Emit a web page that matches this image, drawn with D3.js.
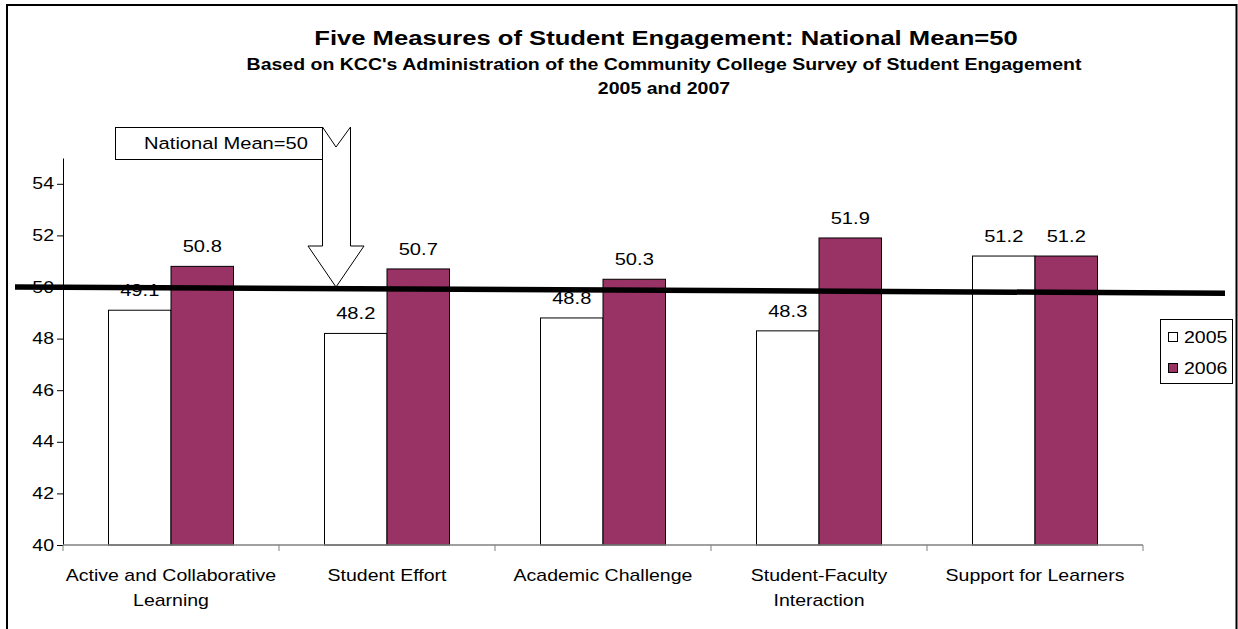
<!DOCTYPE html>
<html>
<head>
<meta charset="utf-8">
<script src="https://cdn.jsdelivr.net/npm/d3@7"></script>
<style>
  html, body { margin: 0; padding: 0; background: #fff; }
  svg { display: block; font-family: "Liberation Sans", Arial, sans-serif; }
</style>
</head>
<body>
<svg id="chart" width="1238" height="629"></svg>
<script>
// ---- data ----
const categories = [
  "Active and Collaborative Learning",
  "Student Effort",
  "Academic Challenge",
  "Student-Faculty Interaction",
  "Support for Learners"
];
const categoryLines = [
  ["Active and Collaborative", "Learning"],
  ["Student Effort"],
  ["Academic Challenge"],
  ["Student-Faculty", "Interaction"],
  ["Support for Learners"]
];
const seriesNames = ["2005", "2006"];
const values2005 = [49.1, 48.2, 48.8, 48.3, 51.2];
const values2006 = [50.8, 50.7, 50.3, 51.9, 51.2];
const yTicks = [40, 42, 44, 46, 48, 50, 52, 54];
const meanLineValues = [50.0, 49.76]; // hand-drawn national mean line (left end, right end)
const titleText = "Five Measures of Student Engagement: National Mean=50";
const subtitleText = "Based on KCC's Administration of the Community College Survey of Student Engagement";
const subtitle2Text = "2005 and 2007";
const calloutText = "National Mean=50";

const seriesValues = [values2005, values2006];
const colors = ["#ffffff", "#993366"];
const STRETCH = 1.22; // reference text is horizontally widened

// ---- layout ----
const svg = d3.select("#chart");
const plot = { left: 63, right: 1143, top: 158, bottom: 545 };

// outer frame
svg.append("rect")
  .attr("x", 7).attr("y", 5).attr("width", 1229.5).attr("height", 700)
  .attr("fill", "none").attr("stroke", "#000").attr("stroke-width", 2);

// titles
svg.append("text").attr("x", 666).attr("y", 45).attr("text-anchor", "middle")
  .attr("font-weight", "bold").attr("font-size", 21).text(titleText);
svg.append("text").attr("x", 664).attr("y", 70).attr("text-anchor", "middle")
  .attr("font-weight", "bold").attr("font-size", 16).text(subtitleText);
svg.append("text").attr("x", 664).attr("y", 94).attr("text-anchor", "middle")
  .attr("font-weight", "bold").attr("font-size", 16).text(subtitle2Text);

// scales
const y = d3.scaleLinear().domain([40, 55]).range([plot.bottom, plot.top]);
const x0 = d3.scaleBand().domain(categories).range([plot.left, plot.right]).padding(0);
const x1 = d3.scaleBand().domain(seriesNames).range([0, x0.bandwidth()])
  .paddingInner(0).paddingOuter(0.728);

// y axis
const yAxis = svg.append("g").attr("transform", `translate(${plot.left},0)`)
  .call(d3.axisLeft(y).tickValues(yTicks).tickSize(6).tickSizeOuter(0).tickFormat(d3.format("d")));
yAxis.select(".domain").attr("stroke", "#000");
yAxis.selectAll(".tick line").attr("stroke", "#000");
yAxis.selectAll(".tick text").attr("font-size", 16).attr("fill", "#000")
  .attr("x", -9).attr("font-family", "Liberation Sans, Arial, sans-serif");

// bars
const groups = svg.append("g").selectAll("g").data(categories).join("g")
  .attr("transform", d => `translate(${x0(d)},0)`);

groups.selectAll("rect")
  .data((d, i) => seriesNames.map((s, j) => ({ s, v: seriesValues[j][i], j })))
  .join("rect")
  .attr("x", d => x1(d.s))
  .attr("y", d => y(d.v))
  .attr("width", x1.bandwidth())
  .attr("height", d => y(40) - y(d.v))
  .attr("fill", d => colors[d.j])
  .attr("stroke", "#000").attr("stroke-width", 1);

groups.selectAll("text.val")
  .data((d, i) => seriesNames.map((s, j) => ({ s, v: seriesValues[j][i], j })))
  .join("text").attr("class", "val")
  .attr("x", d => x1(d.s) + x1.bandwidth() / 2)
  .attr("y", d => y(d.v) - 14)
  .attr("text-anchor", "middle").attr("font-size", 16.5)
  .text(d => d3.format(".1f")(d.v));

// x axis
const xAxis = svg.append("g").attr("transform", `translate(0,${plot.bottom})`);
xAxis.append("line").attr("x1", plot.left).attr("x2", plot.right)
  .attr("stroke", "#808080").attr("stroke-width", 1.5);
const xTickPositions = categories.map(c => x0(c)).concat([x0(categories[categories.length - 1]) + x0.bandwidth()]);
xAxis.selectAll("line.tk").data(xTickPositions).join("line").attr("class", "tk")
  .attr("x1", d => d).attr("x2", d => d).attr("y1", 0).attr("y2", 6)
  .attr("stroke", "#808080").attr("stroke-width", 1);

const xl = svg.append("g").selectAll("text").data(categories).join("text")
  .attr("x", d => x0(d) + x0.bandwidth() / 2)
  .attr("y", 581)
  .attr("text-anchor", "middle").attr("font-size", 16);
xl.selectAll("tspan").data((d, i) => categoryLines[i]).join("tspan")
  .attr("x", function () { return d3.select(this.parentNode).attr("x"); })
  .attr("dy", (d, k) => k === 0 ? 0 : 25)
  .text(d => d);

// legend
const lg = svg.append("g");
lg.append("rect").attr("x", 1160.5).attr("y", 319.5).attr("width", 72).attr("height", 64)
  .attr("fill", "#fff").attr("stroke", "#000").attr("stroke-width", 1);
seriesNames.forEach((s, j) => {
  const cy = 337 + j * 31;
  lg.append("rect").attr("x", 1168.5).attr("y", cy - 4.5).attr("width", 9).attr("height", 9)
    .attr("fill", colors[j]).attr("stroke", "#000").attr("stroke-width", 1);
  lg.append("text").attr("x", 1184).attr("y", cy + 6).attr("font-size", 16).text(s);
});

// callout box + arrow
const arrowTop = 127, boxBottom = 159;
svg.append("rect").attr("x", 115.5).attr("y", arrowTop + 0.5).attr("width", 207).attr("height", boxBottom - arrowTop)
  .attr("fill", "#fff").attr("stroke", "#000").attr("stroke-width", 1);
svg.append("text").attr("x", 226).attr("y", 149).attr("text-anchor", "middle")
  .attr("font-size", 16.5).text(calloutText);

const tipY = y(50);
const shaftL = 322.5, shaftR = 350.5, headL = 308, headR = 364, headY = 246, tipX = 336;
svg.append("path")
  .attr("d", `M${shaftL},${arrowTop} L${tipX},${arrowTop + 20} L${shaftR},${arrowTop} L${shaftR},${headY} L${headR},${headY} L${tipX},${tipY} L${headL},${headY} L${shaftL},${headY} Z`)
  .attr("fill", "#fff").attr("stroke", "#000").attr("stroke-width", 1);

// national mean line (hand-drawn, slightly sloped)
svg.append("line")
  .attr("x1", 15).attr("x2", 1225)
  .attr("y1", y(meanLineValues[0])).attr("y2", y(meanLineValues[1]))
  .attr("stroke", "#000").attr("stroke-width", 5.5);

// widen text glyphs horizontally (about each text's anchor x) to match the reference rendering
svg.selectAll("text").each(function () {
  const ax = parseFloat(this.getAttribute("x") || "0");
  this.setAttribute("transform", `translate(${(ax * (1 - STRETCH)).toFixed(2)},0) scale(${STRETCH},1)`);
});
</script>
</body>
</html>
